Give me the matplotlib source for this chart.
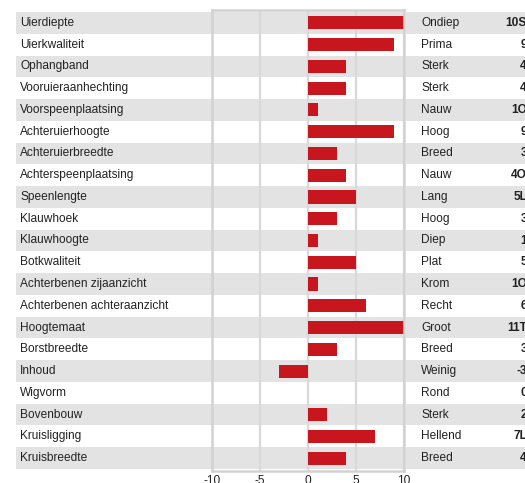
import matplotlib
matplotlib.use("Agg")
import matplotlib.pyplot as plt
import matplotlib.transforms as mtransforms
from matplotlib.patches import Rectangle

plt.rcParams['font.family'] = ['Liberation Sans', 'DejaVu Sans']

# Exterieur-kenmerken met lineaire score en omschrijving
traits = [
    "Uierdiepte", "Uierkwaliteit", "Ophangband", "Vooruieraanhechting",
    "Voorspeenplaatsing", "Achteruierhoogte", "Achteruierbreedte",
    "Achterspeenplaatsing", "Speenlengte", "Klauwhoek", "Klauwhoogte",
    "Botkwaliteit", "Achterbenen zijaanzicht", "Achterbenen achteraanzicht",
    "Hoogtemaat", "Borstbreedte", "Inhoud", "Wigvorm", "Bovenbouw",
    "Kruisligging", "Kruisbreedte",
]
scores = [10, 9, 4, 4, 1, 9, 3, 4, 5, 3, 1, 5, 1, 6, 11, 3, -3, 0, 2, 7, 4]
descriptions = [
    "Ondiep", "Prima", "Sterk", "Sterk", "Nauw", "Hoog", "Breed", "Nauw",
    "Lang", "Hoog", "Diep", "Plat", "Krom", "Recht", "Groot", "Breed",
    "Weinig", "Rond", "Sterk", "Hellend", "Breed",
]
codes = [
    "10S", "9", "4", "4", "1O", "9", "3", "4O", "5L", "3", "1", "5", "1O",
    "6", "11T", "3", "-3", "0", "2", "7L", "4",
]
xticks = [-10, -5, 0, 5, 10]

W, H = 525, 483
fig = plt.figure(figsize=(W / 100, H / 100), dpi=100)

# axes in pixel coordinates
left, right, top, bottom = 212, 404, 10, 471
ax = fig.add_axes([left / W, 1 - bottom / H, (right - left) / W, (bottom - top) / H])

n = len(traits)
pad = 0.095
ax.set_ylim(n - 0.5 + pad, -0.5 - pad)
ax.set_xlim(xticks[0], xticks[-1])

grid_col = "#d9d9d9"
band_col = "#e3e3e3"
text_col = "#222222"
fs = 8.6

# row bands: label column + chart, then the description column
trans = mtransforms.blended_transform_factory(fig.transFigure, ax.transData)
segments = [(16, right), (right + 2, W)]
for i in range(n):
    if i % 2 == 0:
        for x0, x1 in segments:
            ax.add_patch(Rectangle((x0 / W, i - 0.5), (x1 - x0) / W, 1.0,
                                   transform=trans, facecolor=band_col,
                                   edgecolor="none", zorder=0, clip_on=False))
ax.set_facecolor("none")

for x in xticks:
    ax.axvline(x, color=grid_col, lw=1.6, zorder=1)

ax.barh(range(n), scores, height=0.6, color="#c8161e", zorder=2)

for sp in ax.spines.values():
    sp.set_color("#d2d2d2")
    sp.set_linewidth(1.8)
    sp.set_zorder(3)

ax.set_yticks([])
ax.set_xticks(xticks)
ax.set_xticklabels([str(t) for t in xticks], fontsize=fs, color=text_col)
ax.tick_params(axis="x", length=0, pad=3)

for i in range(n):
    ax.text(20 / W, i, traits[i], transform=trans, ha="left", va="center",
            fontsize=fs, color=text_col, zorder=4)
    ax.text(421 / W, i, descriptions[i], transform=trans, ha="left",
            va="center", fontsize=fs, color=text_col, zorder=4)
    ax.text(527 / W, i, codes[i], transform=trans, ha="right", va="center",
            fontsize=fs, fontweight="bold", color=text_col, zorder=4)

fig.savefig("out.png", dpi=100)
